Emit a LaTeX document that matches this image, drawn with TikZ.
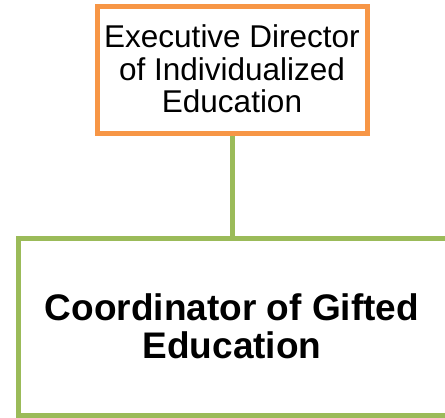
\documentclass[tikz,border=0pt]{standalone}
\usepackage{fontspec}
\setmainfont{Liberation Sans}
\definecolor{boxorange}{HTML}{F79646}
\definecolor{boxgreen}{HTML}{9BBB59}
\begin{document}
\begin{tikzpicture}[x=1pt,y=-1pt,
  orangebox/.style={draw=boxorange,line width=5pt,fill=white,inner sep=0pt},
  greenbox/.style={draw=boxgreen,line width=5pt,fill=white,inner sep=0pt},
  toptext/.style={inner sep=0pt,align=center,font=\fontsize{31.5}{32.3}\selectfont},
  bottext/.style={inner sep=0pt,align=center,font=\fontsize{37}{38.3}\selectfont\bfseries},
  link/.style={draw=boxgreen,line width=4.5pt}]
\useasboundingbox (0,0) rectangle (445,418);
\node[orangebox,minimum width=270pt,minimum height=127pt] (tb) at (232.5,69.5) {};
\node[greenbox,minimum width=429.5pt,minimum height=177.5pt] (bb) at (233.25,326.75) {};
\draw[link] (tb.south) -- (tb.south |- bb.north);
\node[toptext,anchor=base] (tt) at (232,112.3) {Executive Director\\of Individualized\\Education};
\node[bottext,anchor=base] (bt) at (232,358.3) {Coordinator of Gifted\\Education};
\end{tikzpicture}
\end{document}
